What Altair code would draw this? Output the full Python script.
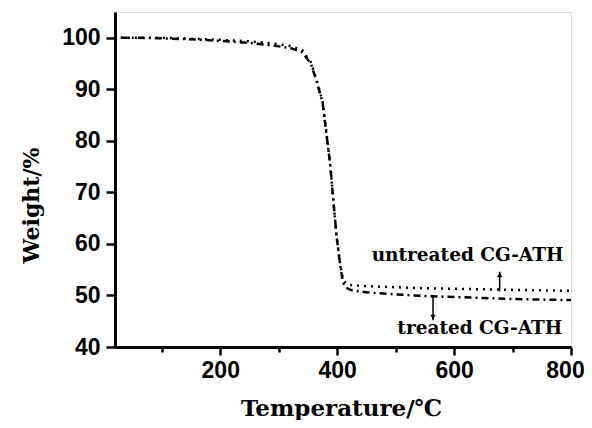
import altair as alt
import pandas as pd

# ---- data ----
temperature = [30, 50, 100, 150, 200, 250, 290, 320, 340, 355, 365, 375, 382,
               388, 393, 399, 405, 410, 415, 425, 450, 500, 550, 600, 650, 700,
               750, 800]
weight_treated = [100.0, 100.0, 99.9, 99.7, 99.4, 99.0, 98.5, 98.0, 97.2, 95.0,
                  91.5, 87.5, 81.0, 75.5, 69.0, 61.5, 56.0, 52.5, 51.5, 51.0,
                  50.6, 50.2, 49.9, 49.7, 49.5, 49.3, 49.2, 49.1]
weight_untreated = [100.0, 100.0, 100.0, 99.8, 99.6, 99.3, 98.9, 98.4, 97.6,
                    95.3, 91.8, 87.7, 81.2, 75.6, 69.0, 61.4, 56.2, 53.0, 52.3,
                    52.0, 51.8, 51.6, 51.4, 51.3, 51.2, 51.1, 51.0, 50.9]
series_names = ["untreated", "treated"]

label_texts = ["untreated CG-ATH", "treated CG-ATH"]
label_temp = [623, 644]
label_weight = [57.9, 43.7]

arrow_temp = [678, 564]
arrow_from = [50.8, 50.1]
arrow_to = [54.6, 45.2]
arrow_shape = ["triangle-up", "triangle-down"]
arrow_head_weight = [54.0, 45.8]

rows = []
for t, w in zip(temperature, weight_untreated):
    rows.append({"T": t, "W": w, "series": "untreated"})
for t, w in zip(temperature, weight_treated):
    rows.append({"T": t, "W": w, "series": "treated"})
df = pd.DataFrame(rows)

labels_df = pd.DataFrame({"T": label_temp, "W": label_weight, "text": label_texts})
arrows_df = pd.DataFrame({"T": arrow_temp, "W1": arrow_from, "W2": arrow_to,
                          "shape": arrow_shape, "Wh": arrow_head_weight})

x_scale = alt.Scale(domain=[20, 800], nice=False, zero=False)
y_scale = alt.Scale(domain=[40, 105], nice=False, zero=False)

common_axis = dict(
    domainColor="black", domainWidth=3, tickColor="black", tickWidth=2.5,
    labelFont="Liberation Sans", labelFontSize=23, labelFontWeight="bold",
    labelColor="black", titleFont="DejaVu Serif",
    titleFontWeight="bold", titleColor="black", grid=False,
)

x_axis = alt.Axis(
    values=list(range(100, 801, 100)),
    labelExpr="datum.value % 200 == 0 ? datum.label : ''",
    tickSize={"condition": {"test": "datum.value % 200 == 0", "value": 8}, "value": 5},
    labelOffset={"condition": {"test": "datum.value == 800", "value": -6}, "value": 0},
    labelPadding=4, title="Temperature/℃", titleX=226, titleY=61,
    titleBaseline="middle", titleAlign="center", titleFontSize=23,
    labelFlush=False,
    **common_axis,
)
y_axis = alt.Axis(
    values=list(range(40, 101, 5)),
    labelExpr="datum.value % 10 == 0 ? datum.label : ''",
    tickSize={"condition": {"test": "datum.value % 10 == 0", "value": 9}, "value": 5},
    labelPadding=6, title="Weight/%", titleX=-84, titleY=193, titleAngle=270,
    titleBaseline="middle", titleAlign="center", titleFontSize=22,
    labelFlush=False,
    **common_axis,
)

lines = alt.Chart(df).mark_line(strokeWidth=2.5, color="black").encode(
    x=alt.X("T:Q", scale=x_scale, axis=x_axis),
    y=alt.Y("W:Q", scale=y_scale, axis=y_axis),
    strokeDash=alt.StrokeDash(
        "series:N",
        scale=alt.Scale(domain=series_names, range=[[2, 5], [7, 4, 2, 4]]),
        legend=None,
    ),
    detail="series:N",
)

texts = alt.Chart(labels_df).mark_text(
    font="DejaVu Serif", fontSize=18.5, fontWeight="bold", color="black",
    align="center", baseline="middle",
).encode(x=alt.X("T:Q", scale=x_scale), y=alt.Y("W:Q", scale=y_scale), text="text:N")

arrow_lines = alt.Chart(arrows_df).mark_rule(color="black", strokeWidth=1.5).encode(
    x=alt.X("T:Q", scale=x_scale), y=alt.Y("W1:Q", scale=y_scale), y2="W2:Q"
)
arrow_heads = alt.Chart(arrows_df).mark_point(
    filled=True, color="black", size=30, opacity=1
).encode(
    x=alt.X("T:Q", scale=x_scale), y=alt.Y("Wh:Q", scale=y_scale),
    shape=alt.Shape("shape:N", scale=None),
)

chart = alt.layer(lines, arrow_lines, arrow_heads, texts).properties(
    width=456, height=335,
    autosize=alt.AutoSizeParams(type="none"),
    padding={"left": 107, "top": 4, "right": 13, "bottom": 73},
).configure_view(stroke="black", strokeWidth=1.5).configure(background="white")

chart.save("out.html", embed_options={"renderer": "svg", "actions": False})
